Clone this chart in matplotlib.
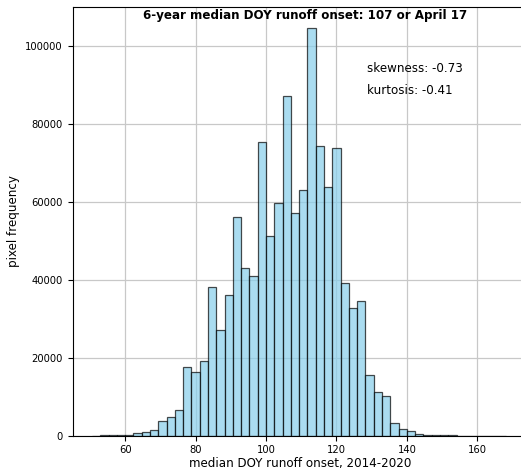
import numpy as np
import matplotlib
matplotlib.use("Agg")
import matplotlib.pyplot as plt

# histogram of median DOY runoff onset, 50 bins
bin_start = 60 - 4 * 80 / 34
bin_width = 80 / 34
counts = [30, 60, 120, 200, 150, 600, 950, 1500, 3900, 4900,
          6600, 17700, 16400, 19300, 38300, 27100, 36200, 56300, 43200, 41000,
          75500, 51300, 59800, 87200, 57100, 63200, 104800, 74500, 64000, 74000,
          39100, 32700, 34600, 15600, 11100, 10300, 3300, 1700, 1200, 350,
          260, 170, 90, 60, 40, 25, 15, 10, 8, 5]

edges = bin_start + bin_width * np.arange(len(counts) + 1)
centers = (edges[:-1] + edges[1:]) / 2

title = "6-year median DOY runoff onset: 107 or April 17"
skew_txt = "skewness: -0.73"
kurt_txt = "kurtosis: -0.41"

fig = plt.figure(figsize=(5.21, 4.69), dpi=100)
ax = fig.add_axes([0.1395, 0.071, 0.872, 0.9134])
ax.set_axisbelow(True)

ax.hist(centers, bins=edges, weights=counts, color="skyblue", edgecolor="black",
        alpha=0.7, linewidth=0.9)
ax.grid(True, color="#c8c8c8", linewidth=0.9)
ax.set_xlim(45.1, 174.1)
ax.set_xticks([60, 80, 100, 120, 140, 160])

ax.tick_params(labelsize=7.2)
ax.set_xlabel("median DOY runoff onset, 2014-2020", fontsize=8.6, labelpad=1)
ax.set_ylabel("pixel frequency", fontsize=8.6)

fig.text(305 / 521, 1 - 16 / 469, title, ha="center", va="center",
         fontsize=8.6, fontweight="bold")
ax.text(128.8, 94300, skew_txt, fontsize=8.6, va="center")
ax.text(128.8, 88600, kurt_txt, fontsize=8.6, va="center")

fig.savefig("out.png", dpi=100)
